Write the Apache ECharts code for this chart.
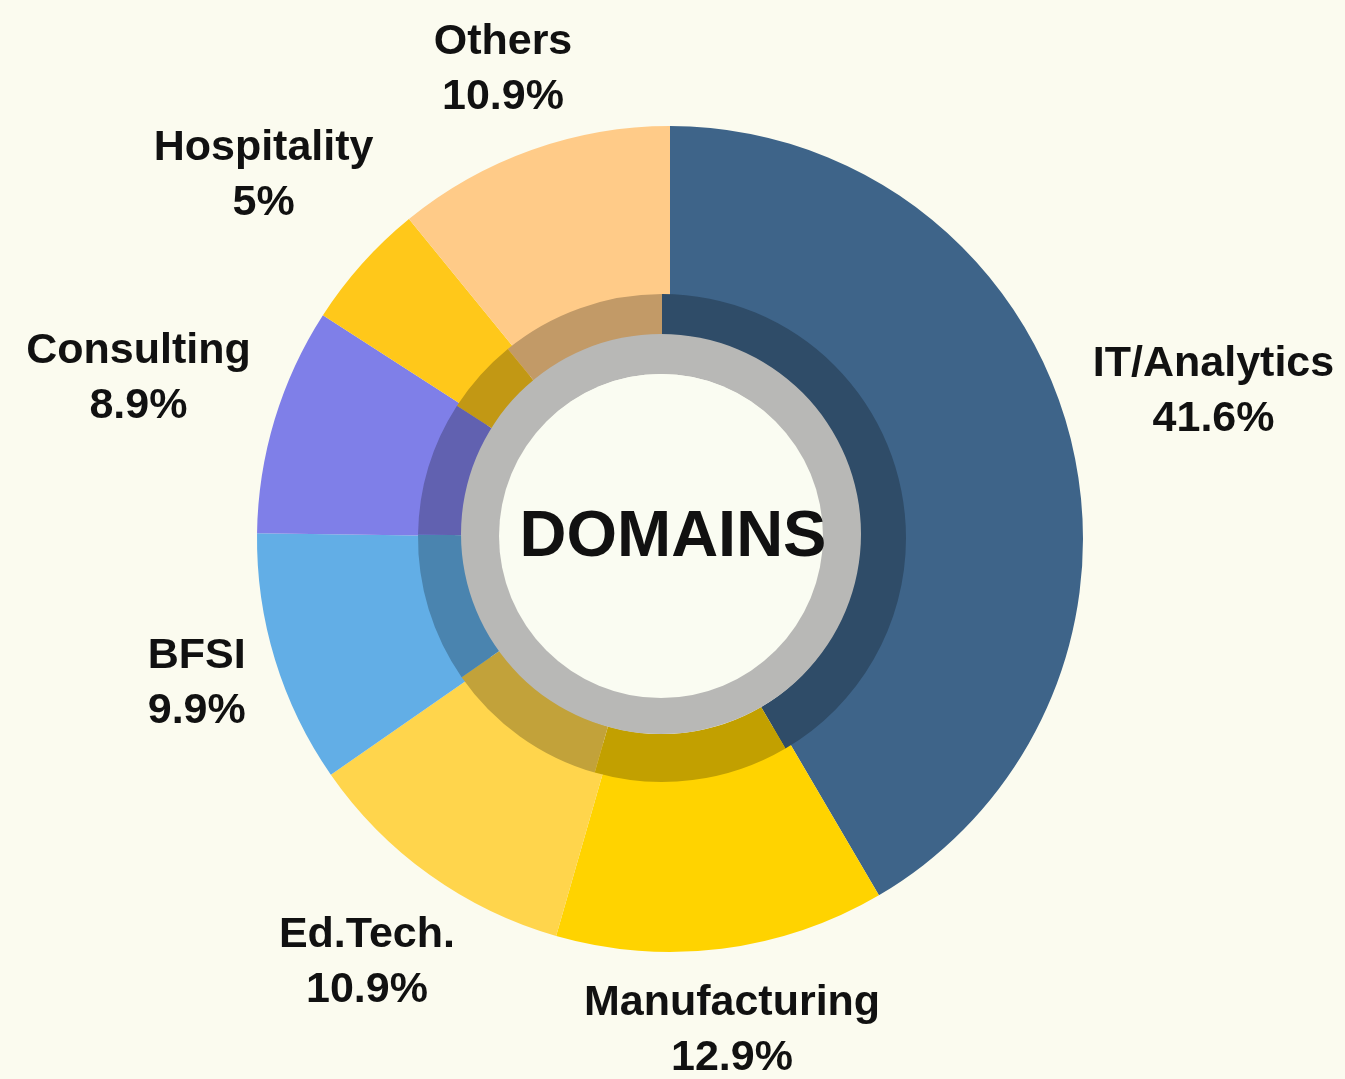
<!DOCTYPE html>
<html>
<head>
<meta charset="utf-8">
<script src="https://cdn.jsdelivr.net/npm/echarts@6/dist/echarts.min.js"></script>
<style>
html,body{margin:0;padding:0;background:#FBFBEF;}
#chart{width:1345px;height:1079px;}
</style>
</head>
<body>
<div id="chart"></div>
<script>
const categories = ['IT/Analytics', 'Manufacturing', 'Ed.Tech.', 'BFSI', 'Consulting', 'Hospitality', 'Others'];
const shares = [41.6, 12.9, 10.9, 9.9, 8.9, 5, 10.9];
const sliceColors = ['#3E6489', '#FFD300', '#FFD54C', '#62AEE6', '#7F7FE8', '#FFC81A', '#FFCB88'];
const centerTitle = 'DOMAINS';

function darken(hex, f) {
  const n = parseInt(hex.slice(1), 16);
  const r = Math.round(((n >> 16) & 255) * f);
  const g = Math.round(((n >> 8) & 255) * f);
  const b = Math.round((n & 255) * f);
  return 'rgb(' + r + ',' + g + ',' + b + ')';
}

const CX = 670, CY = 539, R_OUT = 413;
const total = shares.reduce((a, b) => a + b, 0);
const midAngles = [];
(function () {
  let acc = 0;
  shares.forEach(v => {
    midAngles.push((acc + v / 2) / total * 2 * Math.PI);
    acc += v;
  });
})();

const chart = echarts.init(document.getElementById('chart'), null, {renderer: 'canvas'});
const LABEL_GAP = 436;

chart.setOption({
  backgroundColor: '#FBFBEF',
  animation: false,
  series: [
    {
      type: 'pie',
      center: [CX, CY],
      radius: [215, R_OUT],
      startAngle: 90,
      clockwise: true,
      silent: true,
      data: categories.map((c, i) => ({
        name: c, value: shares[i], itemStyle: {color: sliceColors[i]}
      })),
      label: {
        show: true,
        position: 'inside',
        formatter: p => '{a|' + p.name + '}\n{a|' + p.value + '%}',
        rich: {
          a: {
            fontFamily: 'Liberation Sans, Arial, sans-serif',
            fontWeight: 'bold',
            fontSize: 43,
            lineHeight: 55,
            color: '#111111',
            align: 'center'
          }
        }
      },
      labelLine: {show: false},
      labelLayout: function (params) {
        const i = params.dataIndex;
        const a = midAngles[i];
        const ux = Math.sin(a), uy = -Math.cos(a);
        const w = params.labelRect.width, h = params.labelRect.height;
        const t = LABEL_GAP + (w / 2) * Math.abs(ux) + (h / 2 - 8) * Math.abs(uy);
        return {x: CX + t * ux, y: CY + t * uy, align: 'center', verticalAlign: 'middle'};
      }
    },
    {
      type: 'pie',
      center: [662, 538],
      radius: [196, 244],
      startAngle: 90,
      clockwise: true,
      silent: true,
      data: categories.map((c, i) => ({
        name: c, value: shares[i], itemStyle: {color: darken(sliceColors[i], 0.76)}
      })),
      label: {show: false},
      labelLine: {show: false}
    },
    {
      type: 'pie',
      center: [661, 534],
      radius: [160, 200],
      silent: true,
      data: [{value: 1, name: 'ring', itemStyle: {color: '#B8B8B6'}}],
      label: {show: false},
      labelLine: {show: false}
    },
    {
      type: 'pie',
      center: [661, 536],
      radius: [0, 162],
      silent: true,
      data: [{value: 1, name: 'disc', itemStyle: {color: '#FAFCF2'}}],
      label: {show: false},
      labelLine: {show: false}
    }
  ],
  graphic: [
    {
      type: 'text',
      x: 673,
      y: 538,
      z: 100,
      style: {
        text: centerTitle,
        fontFamily: 'Liberation Sans, Arial, sans-serif',
        fontWeight: 'bold',
        fontSize: 65,
        fill: '#111111',
        align: 'center',
        verticalAlign: 'middle'
      }
    }
  ]
});
</script>
</body>
</html>
